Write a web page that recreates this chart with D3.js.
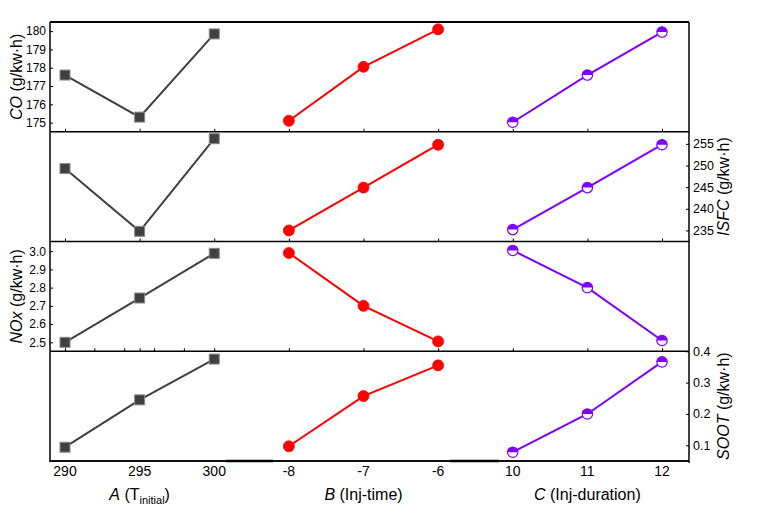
<!DOCTYPE html>
<html><head><meta charset="utf-8">
<script src="https://cdn.jsdelivr.net/npm/d3@7"></script>
<style>
body{margin:0;background:#fff;}
text{font-family:"Liberation Sans",Arial,sans-serif;fill:#000;}
</style></head>
<body><svg id="c" width="757" height="515"></svg>
<script>
// categories
const groupA = ["290","295","300"];
const groupB = ["-8","-7","-6"];
const groupC = ["10","11","12"];
// series values (A, B, C groups)
const coA = [177.6, 175.3, 179.85];
const coB = [175.1, 178.05, 180.1];
const coC = [175.02, 177.6, 179.95];
const isfcA = [249.3, 234.8, 256.2];
const isfcB = [235.0, 244.9, 254.8];
const isfcC = [235.2, 244.9, 254.8];
const noxA = [2.50, 2.743, 2.988];
const noxB = [2.99, 2.70, 2.505];
const noxC = [3.004, 2.80, 2.51];
const sootA = [0.094, 0.245, 0.375];
const sootB = [0.097, 0.257, 0.355];
const sootC = [0.078, 0.20, 0.366];
// tick labels
const coTicks = [175,176,177,178,179,180];
const isfcTicks = [235,240,245,250,255];
const noxTicks = [2.5,2.6,2.7,2.8,2.9,3.0];
const sootTicks = [0.1,0.2,0.3,0.4];
const minorTicksA = [292,294,296,298];

const svg = d3.select("#c");
const L = 50, R = 689, T = 22, B = 461;
const ph = (B - T) / 4;
const allCats = groupA.concat(groupB, groupC);
const x = d3.scalePoint().domain(allCats).range([65, 662]);
const xA = d3.scaleLinear().domain([290,300]).range([x("290"), x("300")]);

const colors = ["#404040", "#ff0000", "#8000ff"];

const panels = [
  {title:["CO"," (g/kw·h)"], dom:[174.5,180.5], ticks:coTicks, side:"left", fmt:d3.format("d"), data:[coA,coB,coC]},
  {title:["ISFC"," (g/kw·h)"], dom:[232.45,257.8], ticks:isfcTicks, side:"right", fmt:d3.format("d"), data:[isfcA,isfcB,isfcC]},
  {title:["NOx"," (g/kw·h)"], dom:[2.451,3.053], ticks:noxTicks, side:"left", fmt:d3.format(".1f"), data:[noxA,noxB,noxC]},
  {title:["SOOT"," (g/kw·h)"], dom:[0.05,0.4], ticks:sootTicks, side:"right", fmt:d3.format(".1f"), data:[sootA,sootB,sootC]}
];
const groups = [groupA, groupB, groupC];

panels.forEach((p, i) => {
  const top = T + i*ph, bot = top + ph;
  const y = d3.scaleLinear().domain(p.dom).range([bot, top]);
  const g = svg.append("g");
  const left = p.side === "left";
  const axis = (left ? d3.axisLeft(y) : d3.axisRight(y))
    .tickValues(p.ticks).tickFormat(p.fmt).tickSize(-3).tickPadding(4);
  const ax = g.append("g").attr("transform", `translate(${left ? L : R},0)`).call(axis);
  ax.select(".domain").remove();
  ax.selectAll("line").attr("stroke","#000").attr("stroke-width",1);
  ax.selectAll("text").style("font-size", left ? "12px" : "12.5px").attr("fill","#000");
  g.append("text").attr("transform", `translate(${left ? 22 : 729},${(top+bot)/2}) rotate(-90)`)
    .attr("text-anchor","middle").style("font-size","16px")
    .call(t => { t.append("tspan").style("font-style","italic").text(p.title[0]); t.append("tspan").text(p.title[1]); });

  // x ticks at panel bottom (pointing up), except last panel
  if (i < 3) {
    const xa = g.append("g").attr("transform", `translate(0,${bot})`)
      .call(d3.axisBottom(x).tickSize(-3).tickFormat(""));
    xa.select(".domain").remove();
    xa.selectAll("line").attr("stroke","#000");
    if (i === 2) {
      g.selectAll(".minor").data(minorTicksA).enter().append("line")
        .attr("x1", d=>xA(d)).attr("x2", d=>xA(d)).attr("y1", bot).attr("y2", bot-3)
        .attr("stroke","#000");
    }
  }
  g.append("line").attr("x1",L).attr("x2",R).attr("y1",bot).attr("y2",bot)
    .attr("stroke","#000").attr("stroke-width",1.5);

  // series
  p.data.forEach((vals, k) => {
    const cats = groups[k];
    const pts = vals.map((v, j) => [x(cats[j]), y(v)]);
    g.append("path").attr("d", d3.line()(pts)).attr("fill","none")
      .attr("stroke", colors[k]).attr("stroke-width", 2);
    pts.forEach(pt => {
      if (k === 0) {
        g.append("rect").attr("x", pt[0]-5).attr("y", pt[1]-5).attr("width",10).attr("height",10)
          .attr("fill","#404040").attr("stroke","#8a8a8a").attr("stroke-width",1);
      } else if (k === 1) {
        g.append("circle").attr("cx",pt[0]).attr("cy",pt[1]).attr("r",5.5)
          .attr("fill","#ff0000").attr("stroke","#ff0000").attr("stroke-width",0.8);
      } else {
        const r = 5.2;
        const mg = g.append("g").attr("transform",`translate(${pt[0]},${pt[1]})`);
        mg.append("circle").attr("r",r).attr("fill","#fff");
        mg.append("path").attr("d",`M${-r},0 A${r},${r} 0 0 1 ${r},0 Z`).attr("fill","#8000ff");
        mg.append("circle").attr("r",r).attr("fill","none").attr("stroke","#8000ff").attr("stroke-width",1.2);
      }
    });
  });
});

// frame
svg.append("line").attr("x1",L).attr("x2",R).attr("y1",T).attr("y2",T).attr("stroke","#000").attr("stroke-width",2);
svg.append("line").attr("x1",L).attr("x2",L).attr("y1",T).attr("y2",B).attr("stroke","#000").attr("stroke-width",1.5);
svg.append("line").attr("x1",R).attr("x2",R).attr("y1",T).attr("y2",B+2).attr("stroke","#000").attr("stroke-width",1.5);
svg.append("line").attr("x1",L-1).attr("x2",R).attr("y1",B).attr("y2",B).attr("stroke","#000").attr("stroke-width",1.5);
[[226,273],[450,499]].forEach(s => {
  svg.append("line").attr("x1",s[0]).attr("x2",s[1]).attr("y1",B).attr("y2",B).attr("stroke","#000").attr("stroke-width",2.5);
});

// bottom tick labels
svg.append("g").selectAll("text").data(allCats).enter().append("text")
  .attr("x", d=>x(d)).attr("y", B+15).attr("text-anchor","middle").style("font-size","14px").text(d=>d);

// group titles
const gt = svg.append("g").style("font-size","16px");
const tA = gt.append("text").attr("x", x("295")).attr("y", 500).attr("text-anchor","middle");
tA.append("tspan").style("font-style","italic").text("A");
tA.append("tspan").text(" (T");
tA.append("tspan").attr("dy",4).style("font-size","11px").text("initial");
tA.append("tspan").attr("dy",-4).text(")");
const tB = gt.append("text").attr("x", x("-7")).attr("y", 500).attr("text-anchor","middle");
tB.append("tspan").style("font-style","italic").text("B");
tB.append("tspan").text(" (Inj-time)");
const tC = gt.append("text").attr("x", x("11")).attr("y", 500).attr("text-anchor","middle");
tC.append("tspan").style("font-style","italic").text("C");
tC.append("tspan").text(" (Inj-duration)");
</script></body></html>
